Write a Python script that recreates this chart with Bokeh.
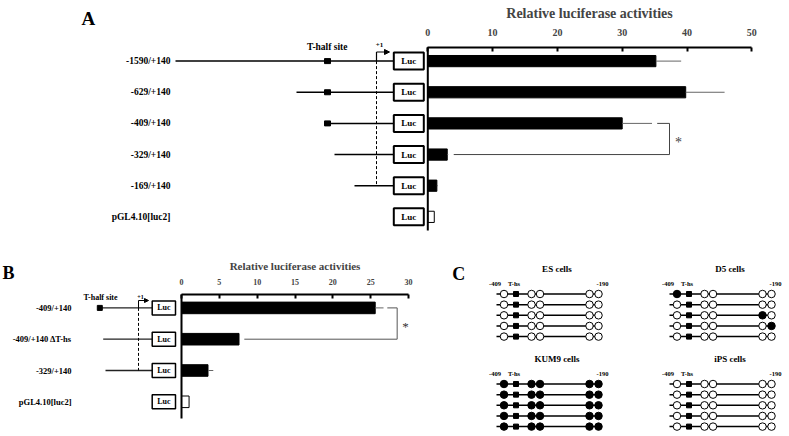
from bokeh.plotting import figure
from bokeh.models import Range1d, LinearAxis, FixedTicker, Arrow, NormalHead, ColumnDataSource
from bokeh.core.properties import value
from bokeh.embed import file_html
from bokeh.resources import INLINE

# ---------------- data ----------------
a_constructs = ["-1590/+140", "-629/+140", "-409/+140", "-329/+140", "-169/+140", "pGL4.10[luc2]"]
a_values = [35.2, 39.8, 30.0, 3.0, 1.4, 1.0]
a_errors = [3.9, 6.0, 4.6, 0.15, 0.15, 0.0]
a_filled = [True, True, True, True, True, False]
a_ticks = [0, 10, 20, 30, 40, 50]

b_constructs = ["-409/+140", "-409/+140 \u0394T-hs", "-329/+140", "pGL4.10[luc2]"]
b_values = [25.6, 7.6, 3.5, 1.0]
b_errors = [1.1, 0.0, 0.7, 0.0]
b_filled = [True, True, True, False]
b_ticks = [0, 5, 10, 15, 20, 25, 30]

c_groups = ["ES cells", "D5 cells", "KUM9 cells", "iPS cells"]
es_meth = [[0, 0, 0, 0, 0], [0, 0, 0, 0, 0], [0, 0, 0, 0, 0], [0, 0, 0, 0, 0], [0, 0, 0, 0, 0]]
d5_meth = [[1, 0, 0, 0, 0], [0, 0, 0, 0, 0], [0, 0, 0, 1, 0], [0, 0, 0, 0, 1], [0, 0, 0, 0, 0]]
kum9_meth = [[1, 1, 1, 1, 1], [1, 1, 1, 1, 1], [1, 1, 1, 1, 1], [1, 1, 1, 1, 1], [1, 1, 1, 1, 1]]
ips_meth = [[0, 0, 0, 0, 0], [0, 0, 0, 0, 0], [0, 0, 0, 0, 0], [0, 0, 0, 0, 0], [0, 0, 0, 0, 0]]

# ---------------- canvas ----------------
W, H = 789, 436
SERIF = value("Liberation Serif")

p = figure(width=W, height=H, x_range=Range1d(0, W), y_range=Range1d(H, 0),
           output_backend="svg", toolbar_location=None,
           x_axis_location=None, y_axis_location=None, min_border=0)
p.outline_line_color = None
p.grid.grid_line_color = None
p.background_fill_color = "white"
p.border_fill_color = "white"


def txt(x, y, s, size, align="center", baseline="middle", bold=True, **kw):
    p.text(x=[x], y=[y], text=[s], text_font=SERIF, text_font_size=f"{size}px",
           text_font_style="bold" if bold else "normal", text_align=align,
           text_baseline=baseline, text_color="black", **kw)


def style_axis(ax, tick_size, label_size, tick_standoff, label_standoff):
    ax.axis_line_width = 2
    ax.axis_line_color = "black"
    ax.major_tick_in = 4
    ax.major_tick_out = 0
    ax.major_tick_line_width = 2
    ax.minor_tick_line_color = None
    ax.major_label_text_font = "Liberation Serif"
    ax.major_label_text_font_style = "bold"
    ax.major_label_text_font_size = f"{tick_size}px"
    ax.major_label_standoff = tick_standoff
    ax.axis_label_text_font = "Liberation Serif"
    ax.axis_label_text_font_style = "bold"
    ax.axis_label_text_font_size = f"{label_size}px"
    ax.axis_label_standoff = label_standoff


def luc_boxes(xc, ys, w, h, fs, lw):
    p.rect(x=[xc] * len(ys), y=ys, width=w, height=h, fill_color="white",
           line_color="black", line_width=lw)
    for y in ys:
        txt(xc, y, "Luc", fs)

# ================= Panel A =================
OXA, SXA = 427.3, 6.48          # pixel of value 0, pixels per unit
OYA, DYA = 60.6, 31.15          # pixel of first row, row spacing
AX_A = 46.7                     # axis line position
p.extra_x_ranges["xA"] = Range1d(-OXA / SXA, (W - OXA) / SXA)
p.extra_y_ranges["yA"] = Range1d((H - OYA) / DYA, -OYA / DYA)
rowsA = list(range(len(a_constructs)))
rowA_px = [OYA + DYA * i for i in rowsA]

srcA = ColumnDataSource(dict(y=rowsA, right=a_values,
                             fill=["black" if f else "white" for f in a_filled]))
p.hbar(y="y", left=0, right="right", height=0.36, fill_color="fill", line_color="black",
       line_width=1, source=srcA, x_range_name="xA", y_range_name="yA")
ea = [(v, v + e, r) for v, e, r in zip(a_values, a_errors, rowsA) if e > 0]
p.segment(x0=[a[0] for a in ea], y0=[a[2] for a in ea], x1=[a[1] for a in ea],
          y1=[a[2] for a in ea], line_color="#666666", line_width=1,
          x_range_name="xA", y_range_name="yA")

axA = LinearAxis(x_range_name="xA", fixed_location=AX_A, ticker=FixedTicker(ticks=a_ticks),
                 bounds=(a_ticks[0], a_ticks[-1]), axis_label="Relative luciferase activities")
style_axis(axA, 10, 14, 11, 6)
p.add_layout(axA, "above")
p.segment(x0=[0], y0=[(AX_A - OYA) / DYA], x1=[0], y1=[(230 - OYA) / DYA],
          line_color="black", line_width=2, x_range_name="xA", y_range_name="yA")

# significance bracket
br_x = 37.3
p.multi_line(xs=[[a_values[2] + a_errors[2] + 0.8, br_x, br_x, a_values[3] + 1.0]],
             ys=[[2, 2, 3, 3]], line_color="#444444", line_width=1,
             x_range_name="xA", y_range_name="yA")
p.text(x=[38.7], y=[2.62], text=["*"], text_font=SERIF, text_font_size="14px",
       text_align="center", text_baseline="middle", text_color="#444444",
       x_range_name="xA", y_range_name="yA")

# schematic A
starts_A = [175, 296, 327, 334, 354]
LUC_AL, LUC_AW, LUC_AH = 393.3, 30, 17
p.segment(x0=starts_A, y0=rowA_px[:5], x1=[LUC_AL] * 5, y1=rowA_px[:5],
          line_color="black", line_width=1.5)
p.rect(x=[327] * 3, y=rowA_px[:3], width=6, height=5, fill_color="black", line_color="black")
p.segment(x0=[376], y0=[rowA_px[0]], x1=[376], y1=[rowA_px[4]], line_color="black",
          line_width=1, line_dash="3 2")
p.segment(x0=[376], y0=[rowA_px[0]], x1=[376], y1=[51.5], line_color="black", line_width=1.2)
p.add_layout(Arrow(end=NormalHead(size=5, fill_color="black", line_color="black"),
                   x_start=376, y_start=51.5, x_end=389, y_end=51.5, line_width=1.2))
txt(379, 44, "+1", 7)
txt(326.7, 46.5, "T-half site", 9.5)
luc_boxes(LUC_AL + LUC_AW / 2, rowA_px, LUC_AW, LUC_AH, 9, 2)
for lab, y in zip(a_constructs, rowA_px):
    txt(170, y, lab, 9.5, align="right")
txt(81, 18, "A", 19, align="left", baseline="alphabetic")

# ================= Panel B =================
OXB, SXB = 181.0, 7.567
OYB, DYB = 307.4, 31.3
AX_B = 294
p.extra_x_ranges["xB"] = Range1d(-OXB / SXB, (W - OXB) / SXB)
p.extra_y_ranges["yB"] = Range1d((H - OYB) / DYB, -OYB / DYB)
rowsB = list(range(len(b_constructs)))
rowB_px = [OYB + DYB * i for i in rowsB]

srcB = ColumnDataSource(dict(y=rowsB, right=b_values,
                             fill=["black" if f else "white" for f in b_filled]))
p.hbar(y="y", left=0, right="right", height=0.37, fill_color="fill", line_color="black",
       line_width=1, source=srcB, x_range_name="xB", y_range_name="yB")
eb = [(v, v + e, r) for v, e, r in zip(b_values, b_errors, rowsB) if e > 0]
p.segment(x0=[a[0] for a in eb], y0=[a[2] for a in eb], x1=[a[1] for a in eb],
          y1=[a[2] for a in eb], line_color="#666666", line_width=1,
          x_range_name="xB", y_range_name="yB")

axB = LinearAxis(x_range_name="xB", fixed_location=AX_B, ticker=FixedTicker(ticks=b_ticks),
                 bounds=(b_ticks[0], b_ticks[-1]), axis_label="Relative luciferase activities")
style_axis(axB, 8, 11, 10, 4)
p.add_layout(axB, "above")
p.segment(x0=[0], y0=[(AX_B - OYB) / DYB], x1=[0], y1=[(418 - OYB) / DYB],
          line_color="black", line_width=2, x_range_name="xB", y_range_name="yB")

brb_x = 28.5
p.multi_line(xs=[[b_values[0] + b_errors[0] + 0.5, brb_x, brb_x, b_values[1] + 0.7]],
             ys=[[0, 0, 1, 1]], line_color="#555555", line_width=1,
             x_range_name="xB", y_range_name="yB")
p.text(x=[29.6], y=[0.6], text=["*"], text_font=SERIF, text_font_size="13px",
       text_align="center", text_baseline="middle", text_color="#333333",
       x_range_name="xB", y_range_name="yB")

# schematic B
starts_B = [99.3, 102.7, 105.0]
LUC_BL, LUC_BW, LUC_BH = 151.7, 23.3, 14
p.segment(x0=starts_B, y0=rowB_px[:3], x1=[LUC_BL] * 3, y1=rowB_px[:3],
          line_color="#222222", line_width=1.3)
p.rect(x=[99.3], y=[rowB_px[0]], width=5, height=5, fill_color="black", line_color="black")
p.segment(x0=[138], y0=[rowB_px[0]], x1=[138], y1=[rowB_px[2]], line_color="black",
          line_width=1, line_dash="3 2")
p.segment(x0=[138], y0=[rowB_px[0]], x1=[138], y1=[300], line_color="black", line_width=1)
p.add_layout(Arrow(end=NormalHead(size=4, fill_color="black", line_color="black"),
                   x_start=138, y_start=300, x_end=148, y_end=300, line_width=1))
txt(140, 296.5, "+1", 6)
txt(100, 297, "T-half site", 8)
luc_boxes(LUC_BL + LUC_BW / 2, rowB_px, LUC_BW, LUC_BH, 8, 1.5)
for lab, y in zip(b_constructs, rowB_px):
    txt(71, y, lab, 8.5, align="right")
txt(2, 272, "B", 18, align="left", baseline="alphabetic")

# ================= Panel C =================
txt(451.7, 273, "C", 18, align="left", baseline="alphabetic")
C_X0, C_Y0, C_DX, C_DY, C_ROW = 496.0, 293.5, 173.0, 90.0, 10.65
CPG_OFF = [7.5, 35.0, 43.5, 93.0, 102.0]
SQ_OFF = 19.5
blocks = [(c_groups[0], es_meth, 0, 0), (c_groups[1], d5_meth, 1, 0),
          (c_groups[2], kum9_meth, 0, 1), (c_groups[3], ips_meth, 1, 1)]
for name, meth, bx, by in blocks:
    x0 = C_X0 + bx * C_DX
    y0 = C_Y0 + by * C_DY
    ys = [y0 + C_ROW * r for r in range(len(meth))]
    p.segment(x0=[x0] * len(ys), y0=ys, x1=[x0 + CPG_OFF[-1]] * len(ys), y1=ys,
              line_color="black", line_width=1.5)
    p.scatter(x=[x0 + SQ_OFF] * len(ys), y=ys, marker="square", size=5,
              fill_color="black", line_color="black")
    cx, cy, cf = [], [], []
    for r, row in enumerate(meth):
        for k, m in enumerate(row):
            cx.append(x0 + CPG_OFF[k])
            cy.append(ys[r])
            cf.append("black" if m else "white")
    p.scatter(x=cx, y=cy, marker="circle", size=7.5, fill_color=cf, line_color="black",
              line_width=1)
    txt(x0 + 60.5, y0 - 25.2, name, 9)
    txt(x0 - 1.5, y0 - 10.3, "-409", 6.5)
    txt(x0 + 17.5, y0 - 11, "T-hs", 6.5)
    txt(x0 + 106, y0 - 10.5, "-190", 6.5)

open("out.html", "w").write(file_html(p, INLINE))
